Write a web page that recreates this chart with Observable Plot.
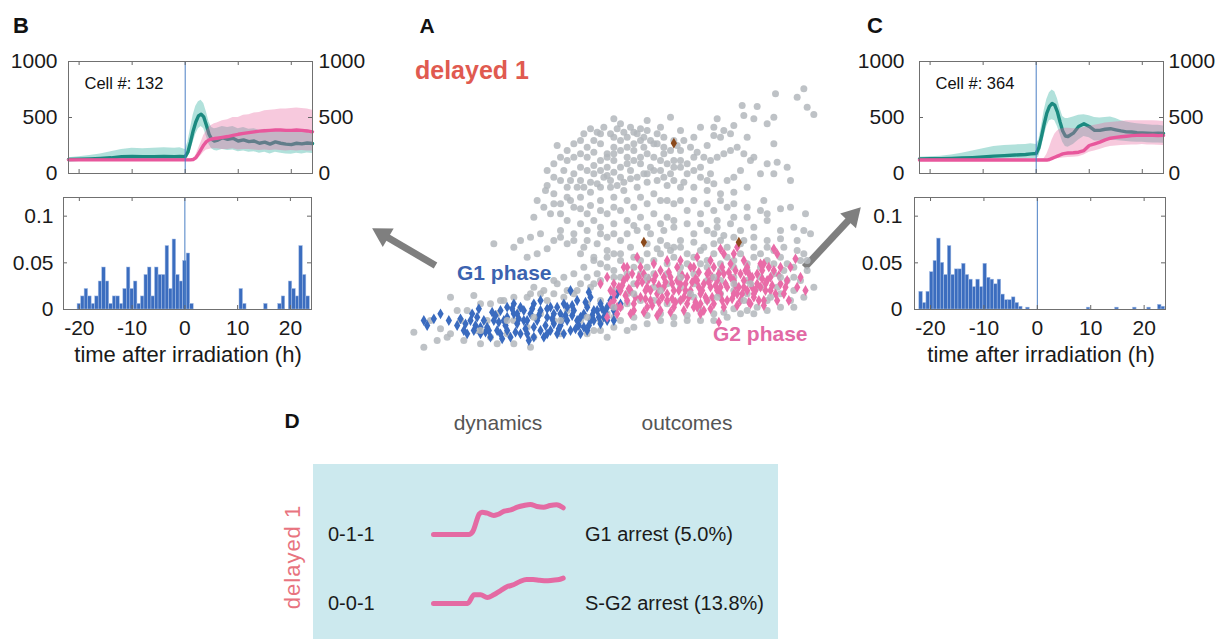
<!DOCTYPE html>
<html><head><meta charset="utf-8">
<script src="https://cdn.jsdelivr.net/npm/d3@7"></script>
<script src="https://cdn.jsdelivr.net/npm/@observablehq/plot@0.6"></script>
<style>
body{margin:0;background:#fff;font-family:"Liberation Sans",Arial,sans-serif;}
#fig{position:relative;width:1231px;height:639px;overflow:hidden;background:#fff;}
.abs{position:absolute;}
.lbl{position:absolute;white-space:nowrap;line-height:1;}
svg{overflow:visible;max-width:none!important;}
</style></head><body><div id="fig"></div>
<script>
// ---------- DATA ----------
// time points (h) for mean traces in panels B and C
const T = [-22,-20,-18,-16,-14,-12,-10,-8,-6,-4,-2,-1,0,0.5,1,1.5,2,2.5,3,3.5,4,4.5,5,5.5,6,7,8,9,10,11,12,13,14,15,16,17,18,19,20,21,22,23,24];
const B_tealMean = [125,127,130,135,140,150,152,150,150,152,150,152,150,190,280,380,460,515,530,505,430,350,305,290,295,320,305,315,290,300,285,290,270,280,262,282,270,262,258,270,265,272,268];
const B_tealHi = [140,150,160,175,195,215,225,220,225,230,225,230,215,280,400,520,600,640,655,625,550,460,410,400,405,420,410,420,400,410,395,400,385,395,375,390,380,372,380,385,375,390,380];
const B_tealLo = [112,112,113,115,115,118,118,118,118,120,120,122,122,140,200,280,350,400,420,400,330,260,220,205,200,215,205,210,195,200,190,195,180,190,175,190,180,175,172,180,175,182,178];
const B_pinkMean = [122,122,122,122,122,122,122,122,122,122,122,122,122,122,122,125,140,175,215,255,285,300,308,312,315,322,330,340,350,358,365,372,378,382,385,388,388,385,385,388,385,380,372];
const B_pinkHi = [132,132,132,132,132,132,132,132,132,132,132,132,132,132,132,135,160,220,280,340,380,410,430,445,450,470,480,500,500,520,525,540,545,560,565,570,575,575,580,585,580,575,565];
const B_pinkLo = [112,112,112,112,112,112,112,112,112,112,112,112,112,112,112,115,120,135,160,190,210,215,220,220,220,215,215,220,210,215,215,210,205,210,205,210,205,200,205,200,205,200,200];

const C_tealMean = [130,132,133,135,138,142,148,155,160,165,170,175,178,230,330,440,540,600,625,610,550,460,380,335,330,360,420,445,420,385,385,395,400,390,380,372,370,365,362,360,358,360,358];
const C_tealHi = [145,150,155,165,180,200,220,240,250,255,260,265,260,300,420,560,660,720,745,730,670,580,510,490,490,505,520,525,515,500,495,500,505,490,470,460,450,445,440,435,430,430,425];
const C_tealLo = [118,118,118,120,120,122,122,125,125,128,130,132,132,150,230,330,420,470,480,470,420,350,280,240,235,260,300,330,320,290,290,295,300,295,290,285,282,280,278,275,272,272,270];
const C_pinkMean = [120,120,120,120,120,120,120,120,120,120,120,120,120,120,120,120,120,125,135,145,155,165,175,180,183,185,190,205,250,265,280,300,315,322,328,333,338,340,342,340,342,338,340];
const C_pinkHi = [130,130,130,130,130,130,130,130,130,130,130,130,130,130,130,135,170,230,300,350,380,395,400,405,405,400,400,410,420,430,440,450,455,460,465,470,470,470,472,470,470,468,465];
const C_pinkLo = [110,110,110,110,110,110,110,110,110,110,110,110,110,110,110,112,115,118,122,128,132,135,138,140,142,145,150,165,190,200,215,230,240,245,250,252,255,255,258,255,255,252,250];

const cellIds = ["132", "364"];
const yTicksTrace = [0, 500, 1000];
const xTicks = [-20, -10, 0, 10, 20];
const yTicksHist = [0, 0.05, 0.1];

// histograms (fraction of cells per 40-min bin)
const histB_start = -20.33, histC_start = -22.1, binWidth = 0.667;
const histB = [0.006,0.014,0.022,0.014,0.006,0.014,0.030,0.045,0.030,0.006,0.014,0.014,0.006,0.022,0.045,0.022,0.030,0.006,0.014,0.037,0.045,0.014,0.045,0.037,0.037,0.068,0.022,0.075,0.037,0.030,0.052,0.060,0.006,
  0,0,0,0,0,0,0,0,0,0,0,0,0, 0.022,0.006, 0,0,0,0,0, 0.006, 0,0,0, 0.006,0.014,0, 0.030,0.022,0.014,0.068,0.037,0.014];
const histC = [0.019,0.007,0.019,0.040,0.052,0.076,0.050,0.037,0.068,0.037,0.043,0.043,0.049,0.037,0.032,0.024,0.032,0.024,0.049,0.034,0.032,0.027,0.032,0.016,0.010,0.010,0.013,0.007,0.003,0,0.002,
  0,0,0,0,0,0,0,0,0,0,0,0,0,0,0,0, 0.002, 0,0,0,0,0,0,0, 0.002, 0,0,0,0, 0.002, 0,0,0, 0.002, 0,0, 0.005,0.003];

// panel A embedding (arbitrary units, dim2 increases downward)
const grayPts = [[700,355],[870,350],[1010,355],[1085,315],[1130,318],[1185,280],[1250,290],[1270,265],[1280,320],[1300,342],[1090,345],[1120,355],[1160,370],[1180,350],[1060,375],[1030,390],[1000,405],[980,435],[1020,410],[1050,400],[1100,410],[1180,430],[1120,470],[1160,490],[1190,485],[1220,500],[1180,520],[1140,520],[1080,510],[1040,540],[1060,530],[990,520],[960,500],[940,470],[900,450],[880,420],[850,410],[830,400],[800,390],[780,385],[760,395],[740,410],[720,420],[700,440],[680,460],[660,430],[640,420],[620,440],[600,460],[580,470],[560,480],[530,435],[580,520],[550,510],[520,530],[500,555],[495,570],[520,580],[560,560],[600,540],[640,520],[680,500],[700,480],[740,470],[760,450],[790,440],[820,430],[850,460],[880,480],[900,500],[920,520],[870,520],[840,510],[810,500],[780,490],[750,510],[720,530],[690,540],[660,560],[630,575],[600,590],[570,600],[540,610],[600,625],[630,615],[660,600],[700,590],[730,570],[770,560],[800,545],[830,540],[860,555],[900,560],[940,560],[980,570],[1020,580],[1060,575],[1100,560],[1150,600],[1230,540],[1160,640],[1200,625],[1230,620],[1275,640],[1040,620],[1000,630],[960,640],[920,630],[880,610],[840,600],[800,610],[760,620],[720,630],[680,640],[640,660],[600,670],[560,660],[540,640],[510,640],[460,650],[540,690],[580,700],[620,690],[660,680],[700,670],[740,660],[780,650],[820,640],[860,650],[880,680],[850,690],[810,700],[770,690],[740,700],[720,720],[680,710],[650,730],[610,740],[560,730],[520,720],[500,745],[470,760],[440,770],[400,740],[340,730],[600,760],[640,770],[700,760],[750,740],[800,730],[830,745],[860,735],[900,720],[940,700],[980,690],[1010,680],[1050,670],[1080,690],[1120,680],[1160,660],[1200,690],[1240,680],[1270,690],[1290,700],[1250,720],[1200,715],[1160,720],[1120,710],[1090,720],[1060,710],[1020,720],[970,740],[940,725],[900,740],[870,750],[1000,700],[1030,705],
  [610,400],[630,385],[650,395],[670,380],[690,400],[710,385],[730,395],[750,380],[770,400],[790,410],[810,420],[830,430],[850,440],[870,450],[890,435],[910,420],[930,440],[950,455],[970,470],[990,480],[1010,470],[1030,460],[1050,450],[1070,440],[1090,460],[1110,480],[620,470],[640,455],[660,480],[680,470],[700,460],[720,450],[740,440],[760,430],[780,420],[800,460],[820,470],[840,480],[860,490],[880,500],[900,480],[920,490],[940,510],[960,530],[980,540],[1000,550],[600,500],[620,510],[640,495],[660,510],[680,525],[700,515],[720,500],[740,490],[760,480],[780,470],[800,520],[820,510],[850,530],[880,540],[910,545],[570,540],[590,560],[610,560],[630,545],[650,550],[670,530],[690,560],[710,555],[730,545],[750,535],[770,530],[790,520],[700,410],[660,400],[720,370],[800,360],[840,380],[900,390],[940,410],[960,380],[1000,380],[580,430],[600,420],[560,450],[540,470],[520,490],[500,510],[540,540],[560,590],[580,620],[520,610],[470,600],[490,620],[620,640],[660,630],[700,620],[740,600],[780,590],[820,580],[860,600],[900,600],[940,600],[980,610],[1020,600],[1060,610],[1100,620],[1140,630],[1100,650],[1060,650],[1010,660],[960,670],[920,670],[880,660],[840,670],[800,680],[760,675],[700,700],[660,700],[620,720],[580,720],[540,710],[480,700],[450,710],[420,720],
  [100,995],[130,1040],[150,960],[180,985],[210,890],[210,1000],[240,960],[260,930],[280,885],[290,990],[300,910],[320,960],[330,1010],[350,940],[370,900],[380,1000],[400,960],[420,925],[440,980],[460,1010],[480,940],[500,900],[520,960],[540,1000],[560,930],[580,880],[600,960],[620,910],[640,850],[660,900],[680,940],[700,870],[720,920],[560,870],[530,850],[520,880],[490,870],[460,860],[440,890],[600,850],[620,830],[650,820],[680,800],[700,810],[720,830],[740,880],[760,850],[780,820],[800,800],[820,780],[840,760],[860,790],[880,770],[900,800],[920,790],[940,770],[960,790],[980,780],[1000,760],[1020,790],[1040,770],[1060,780],[1080,760],[1100,790],[1120,770],[1140,760],[1160,780],[1180,750],[1200,770],[1220,790],[1240,800],[1260,780],[1280,810],[1260,840],[1240,870],[1230,900],[1200,880],[1190,860],[1160,900],[1130,920],[1100,930],[1060,925],[1030,935],[1000,940],[960,930],[920,945],[880,950],[840,940],[800,945],[760,950],[720,960],[700,950],[660,960],[640,990],[860,910],[900,900],[940,890],[980,900],[1020,880],[1060,870],[1100,880],[1140,860],[820,900],[780,900],[740,910],[820,860],[860,850],[900,860],[940,850],[980,840],[1020,840],[1060,830],[1100,840],[1140,830],[1180,820],[1220,840],[800,840],[760,800],[720,780],[680,770],[660,790],
  [230,930],[200,1010],[170,1020],[250,1020],[300,1030],[350,1030],[400,1030],[450,1040],[360,900],[330,910],[400,890],[450,880],[480,880],[550,890],[590,870],[630,860],[660,840],[700,830],[740,820],[780,780],[820,820],[860,820],[900,820],[940,820],[980,800],[1020,810],[1060,800],[1100,810],[1140,800],[1180,790],[1210,810],[1240,830],[1270,760],[1250,750],[1210,740],[1160,740],[1120,740],[1080,730],[1040,740],[1000,730],[960,750],[920,760],[880,740],[840,720],[800,760],[760,770],[720,760],[680,750],[640,780],[610,800],[580,820],[550,830],[520,840],[760,980],[800,970],[840,960],[880,970],[920,960],[960,960],[1000,960],[1040,950],[1080,940],[1120,940],[1160,930],[1200,920],[1240,920],[1270,890],[1300,860],[1280,780],[620,1000],[660,990],[700,980],[740,990],[680,1010]];
const g1Pts = [[130,960],[140,975],[180,940],[240,955],[260,1000],[280,990],[300,1000],[320,980],[340,960],[360,930],[370,960],[380,990],[400,940],[400,910],[420,920],[430,960],[440,1000],[450,940],[460,910],[470,960],[480,990],[490,1010],[500,950],[510,920],[520,970],[530,1000],[540,940],[550,910],[560,960],[570,990],[580,930],[590,900],[600,950],[610,980],[620,920],[630,890],[640,960],[650,930],[660,910],[670,950],[680,920],[690,900],[700,930],[710,880],[720,910],[570,870],[625,875],[350,990],[330,1010],[310,960],[290,950],[270,960],[250,990],[360,1000],[380,950],[410,970],[430,930],[460,980],[500,1000],[520,940],[540,975],[560,920],[590,960],[610,940],[640,930],[660,970],[680,960],[700,960],[390,1010],[420,1000],[480,930],[510,990],[550,1000],[600,1000],[620,990],[460,1010],[480,900],[440,960],[410,940],[345,945],[300,980],[230,975],[380,920],[530,920],[575,945],[630,960],
  [255,970],[275,940],[295,925],[315,995],[335,935],[355,965],[375,975],[395,925],[415,955],[435,985],[455,925],[475,945],[495,975],[515,955],[535,985],[555,945],[575,915],[595,975],[615,905],[635,945],[655,950],[675,935],[695,915],[445,1020],[405,995],[365,1015],[325,990],[285,975],[205,960],[160,955],[500,925],[545,960],[585,985],[625,975],[665,925],[700,890]];
const g2Pts = [[660,850],[690,870],[700,900],[710,940],[720,870],[730,840],[740,800],[740,900],[750,870],[760,930],[770,850],[780,890],[790,820],[800,860],[810,900],[820,840],[830,880],[840,810],[850,860],[860,900],[870,830],[880,870],[890,800],[900,850],[910,890],[920,830],[930,870],[940,800],[950,840],[960,880],[970,930],[980,820],[990,860],[1000,800],[1010,840],[1020,880],[1030,820],[1040,860],[1050,790],[1060,840],[1070,880],[1080,820],[1090,860],[1100,800],[1110,840],[1120,880],[1130,820],[1140,860],[1150,790],[1160,840],[1170,870],[1180,810],[1190,760],[1180,745],[1200,850],[1220,840],[1230,800],[1245,775],[1275,870],[1020,745],[1060,760],[1070,740],[990,780],[950,770],[900,780],[860,780],[820,790],[780,800],[740,830],[700,850],[680,830],[760,910],[800,920],[840,930],[880,920],[920,910],[960,910],[1000,910],[1040,900],[1080,900],[1120,890],[1150,900],[730,800],[770,770],[810,870],[850,830],[890,840],[930,800],[970,850],[1010,870],[1050,830],[1090,840],[1130,850],[1170,830],[1200,800],[1210,880],[1030,760],[1090,780],[1140,790],[860,880],[900,900],[940,920],[980,900],[1020,860],[1060,880],[1100,870],[720,920],[680,950],[745,865],[785,845],[825,825],[865,815],[905,825],[945,835],[985,845],[1025,800],[1065,810],[1105,820],[1145,810],[795,895],[835,905],[875,895],[915,870],[955,860],[995,830],[1035,850],[1075,860],[1115,860],[1155,850],[1015,965],[960,940],
  [715,860],[735,885],[755,820],[765,890],[775,830],[795,870],[805,835],[815,915],[835,855],[845,890],[855,845],[875,850],[885,905],[895,870],[915,850],[925,890],[935,845],[945,905],[955,815],[965,870],[975,890],[985,815],[995,890],[1005,855],[1015,820],[1025,900],[1045,815],[1055,895],[1065,855],[1085,880],[1095,810],[1105,905],[1115,830],[1125,870],[1135,900],[1145,835],[1155,870],[1165,800],[1175,855],[1185,880],[1195,825],[1215,860],[700,880],[725,855],[690,910],[710,920],[750,940],[790,935],[830,945],[870,935],[910,930],[950,920],[990,925],[1030,920],[1070,915],[1110,910],[1150,915],[1190,900],[1225,900],[1250,860],[1260,830]];
// gray cells overlapping the phase-marked cells in the dense band
const grayOverPts = [[760,880],[840,870],[930,880],[1010,890],[1090,900],[1170,890],[800,830],[900,830],[1000,830],[1110,850],[700,920],[620,950],[540,960],[460,950],[380,960],[300,990],[1200,830],[1060,850]];
const markedPts = [[880,428],[790,725],[1075,725]];
const arrowDefs = [{x1:165,y1:795,x2:-24,y2:684},{x1:1272,y1:801,x2:1440,y2:621}];

// panel D
const dynRows = ["0-1-1", "0-0-1"];
const dyn011T = [0,27,30,35,37,41,46,49,54,59,64,69,74,79,84,89,94,99];
const dyn011V = [120,120,150,327,343,333,310,320,353,367,393,410,420,400,393,410,417,387];
const dyn001T = [0,26,31,36,41,46,51,56,61,66,71,76,81,86,91,96,99];
const dyn001V = [120,120,207,207,180,207,247,287,307,340,360,360,353,347,353,360,373];
const outcomes = ["G1 arrest (5.0%)", "S-G2 arrest (13.8%)"];

// ---------- STYLE ----------
const FONT = '"Liberation Sans", Arial, sans-serif';
const TEAL = "#1b8a80", TEAL_BAND = "#3cb5a5", PINK = "#e8579c", PINK_BAND = "#e9649f";
const BAR = "#3b6dbf", VLINE = "#4a7fc4", FRAME = "#707070";
const fig = document.getElementById("fig");
function place(node, left, top) {
  const d = document.createElement("div");
  d.className = "abs"; d.style.left = left + "px"; d.style.top = top + "px";
  d.appendChild(node); fig.appendChild(d);
}
function label(text, x, y, o = {}) {
  const d = document.createElement("div");
  d.className = "lbl"; d.textContent = text;
  d.style.left = x + "px"; d.style.top = y + "px";
  d.style.fontSize = (o.size || 20) + "px";
  d.style.fontWeight = o.weight || "normal";
  d.style.color = o.color || "#1a1a1a";
  if (o.spacing) d.style.letterSpacing = o.spacing + "px";
  const tx = o.anchor === "start" ? "0" : "-50%";
  d.style.transform = `translate(${tx},-50%)` + (o.rotate ? ` rotate(${o.rotate}deg)` : "");
  fig.appendChild(d);
}
const plain = d => String(d);
function inwardTicks(W, H, xt, yt, k) {
  const s = {stroke: "#666", strokeWidth: 1};
  return [
    Plot.tickX(xt, {x: d => d, insetBottom: H - k, ...s}),
    Plot.tickX(xt, {x: d => d, insetTop: H - k, ...s}),
    Plot.tickY(yt, {y: d => d, insetRight: W - k, ...s}),
    Plot.tickY(yt, {y: d => d, insetLeft: W - k, ...s})
  ];
}
function tracePanel(p) {
  const W = 244, H = 112, mt = 16, mb = 12;
  const rows = T.map((t, i) => ({t, tm: p.tm[i], tl: p.tl[i], th: p.th[i], pm: p.pm[i], pl: p.pl[i], ph: p.ph[i]}));
  return Plot.plot({
    width: p.ml + W + p.mr, height: mt + H + mb,
    marginLeft: p.ml, marginRight: p.mr, marginTop: mt, marginBottom: mb,
    style: {background: "transparent", fontFamily: FONT, overflow: "visible", color: "#1a1a1a"},
    x: {domain: [-22, 24], axis: null}, y: {domain: [0, 1000], axis: null},
    marks: [
      Plot.areaY(rows, {x: "t", y1: "tl", y2: "th", fill: TEAL_BAND, fillOpacity: 0.4}),
      Plot.line(rows, {x: "t", y: "tm", stroke: TEAL, strokeWidth: 3.4}),
      Plot.areaY(rows, {x: "t", y1: "pl", y2: "ph", fill: PINK_BAND, fillOpacity: 0.35}),
      Plot.line(rows, {x: "t", y: "pm", stroke: PINK, strokeWidth: 3.4}),
      Plot.ruleX([0], {stroke: VLINE, strokeWidth: 1}),
      ...inwardTicks(W, H, xTicks, yTicksTrace, 4),
      Plot.frame({stroke: FRAME}),
      Plot.text([p.cell], {text: d => "Cell #: " + d, frameAnchor: "top-left", textAnchor: "start", lineAnchor: "middle", dx: 16, dy: 22, fontSize: 16.5, fill: "#111"}),
      Plot.axisY({anchor: "left", ticks: yTicksTrace, tickFormat: plain, tickSize: 0, tickPadding: p.padL, fontSize: 21, label: null}),
      Plot.axisY({anchor: "right", ticks: yTicksTrace, tickFormat: plain, tickSize: 0, tickPadding: p.padR, fontSize: 21, label: null})
    ]
  });
}
function histPanel(h) {
  const W = h.w, H = 112, mt = 17, mb = 42;
  const bins = h.v.map((v, i) => ({x1: h.start + i * binWidth, x2: h.start + (i + 1) * binWidth, v})).filter(d => d.v > 0);
  return Plot.plot({
    width: h.ml + W + 12, height: mt + H + mb,
    marginLeft: h.ml, marginRight: 12, marginTop: mt, marginBottom: mb,
    style: {background: "transparent", fontFamily: FONT, overflow: "visible", color: "#1a1a1a"},
    x: {domain: [-23, 24], axis: null}, y: {domain: [0, 0.12], axis: null},
    marks: [
      Plot.rectY(bins, {x1: "x1", x2: "x2", y: "v", fill: BAR, stroke: "#a8bfe6", strokeWidth: 0.5}),
      Plot.ruleX([0], {stroke: VLINE, strokeWidth: 1}),
      ...inwardTicks(W, H, xTicks, yTicksHist.slice(1), 4),
      Plot.frame({stroke: FRAME}),
      Plot.axisY({anchor: "left", ticks: yTicksHist, tickFormat: plain, tickSize: 0, tickPadding: h.padL, fontSize: 21, label: null}),
      Plot.axisX({anchor: "bottom", ticks: xTicks, tickFormat: plain, tickSize: 0, tickPadding: 11, fontSize: 21, label: null})
    ]
  });
}

// ---------- PANELS B & C ----------
place(tracePanel({tm: B_tealMean, tl: B_tealLo, th: B_tealHi, pm: B_pinkMean, pl: B_pinkLo, ph: B_pinkHi, cell: cellIds[0], ml: 68, mr: 58, padL: 11, padR: 6}), 0, 45);
place(tracePanel({tm: C_tealMean, tl: C_tealLo, th: C_tealHi, pm: C_pinkMean, pl: C_pinkLo, ph: C_pinkHi, cell: cellIds[1], ml: 72, mr: 60, padL: 15, padR: 5}), 847, 45);
place(histPanel({v: histB, start: histB_start, w: 248, ml: 63, padL: 10}), 0, 180);
place(histPanel({v: histC, start: histC_start, w: 251, ml: 72, padL: 12}), 842, 180);

// ---------- PANEL A ----------
const arrowParts = arrowDefs.map(a => {
  const dx = a.x2 - a.x1, dy = a.y2 - a.y1, L = Math.hypot(dx, dy);
  return {x1: a.x1, y1: a.y1, sx: a.x2 - dx / L * 50, sy: a.y2 - dy / L * 50,
          hx: a.x2 - dx / L * 36, hy: a.y2 - dy / L * 36, rot: Math.atan2(dx, -dy) * 180 / Math.PI};
});
const scatter = Plot.plot({
  width: 510, height: 350, margin: 0,
  style: {background: "transparent", overflow: "visible"},
  x: {domain: [-60, 1470], axis: null}, y: {domain: [1050, 0], axis: null},
  marks: [
    Plot.link(arrowParts, {x1: "x1", y1: "y1", x2: "sx", y2: "sy", stroke: "#7f7f7f", strokeWidth: 7}),
    Plot.dot(arrowParts, {x: "hx", y: "hy", symbol: "triangle", r: 8, fill: "#7f7f7f", rotate: "rot"}),
    Plot.dot(grayPts, {x: d => d[0], y: d => d[1], r: 3.5, fill: "#b3b7bc", fillOpacity: 0.85}),
    Plot.dot(g1Pts, {x: d => d[0], y: d => d[1], r: 3.3, symbol: "diamond", fill: "#3a6bbf"}),
    Plot.dot(g2Pts, {x: d => d[0], y: d => d[1], r: 3.3, symbol: "diamond", fill: "#e96ca8"}),
    Plot.dot(grayOverPts, {x: d => d[0], y: d => d[1], r: 3.5, fill: "#b3b7bc", fillOpacity: 0.85}),
    Plot.dot(markedPts, {x: d => d[0], y: d => d[1], r: 3.3, symbol: "diamond", fill: "#8b4a1c"})
  ]
});
place(scatter, 360, 0);

// ---------- PANEL D ----------
const box = document.createElement("div");
box.className = "abs";
Object.assign(box.style, {left: "313px", top: "464px", width: "465px", height: "175px", background: "#cce9ee"});
fig.appendChild(box);
const dynData = [
  ...dyn011T.map((t, i) => ({row: dynRows[0], t, v: dyn011V[i]})),
  ...dyn001T.map((t, i) => ({row: dynRows[1], t, v: dyn001V[i]}))
];
const dyn = Plot.plot({
  width: 131, height: 138, margin: 0,
  style: {background: "transparent", overflow: "visible"},
  x: {domain: [0, 100], axis: null}, y: {domain: [-30, 660], axis: null},
  fy: {domain: dynRows, axis: null, padding: 0},
  marks: [Plot.line(dynData, {x: "t", y: "v", fy: "row", stroke: "#e46aa3", strokeWidth: 5, curve: "monotone-x"})]
});
place(dyn, 433, 480);

// ---------- TEXT ----------
label("B", 21, 26, {size: 22, weight: "bold", color: "#111"});
label("A", 427, 25, {size: 21, weight: "bold", color: "#111"});
label("C", 875, 26, {size: 22, weight: "bold", color: "#111"});
label("D", 292, 420, {size: 21, weight: "bold", color: "#111"});
label("delayed 1", 415, 70, {size: 25, weight: "bold", color: "#e05a50", anchor: "start"});
label("G1 phase", 457, 272, {size: 21, weight: "bold", color: "#3b63b0", anchor: "start"});
label("G2 phase", 713, 333, {size: 21, weight: "bold", color: "#e26aa5", anchor: "start"});
label("time after irradiation (h)", 188, 355, {size: 22});
label("time after irradiation (h)", 1041, 355, {size: 22});
label("dynamics", 498, 422, {size: 21, color: "#555"});
label("outcomes", 687, 422, {size: 21, color: "#555"});
label("delayed 1", 293, 557, {size: 22, color: "#e8747f", rotate: -90, spacing: 1});
label(dynRows[0], 328, 534, {size: 20, anchor: "start"});
label(dynRows[1], 328, 603, {size: 20, anchor: "start"});
label(outcomes[0], 585, 534, {size: 20, anchor: "start"});
label(outcomes[1], 585, 603, {size: 20, anchor: "start"});
</script></body></html>
